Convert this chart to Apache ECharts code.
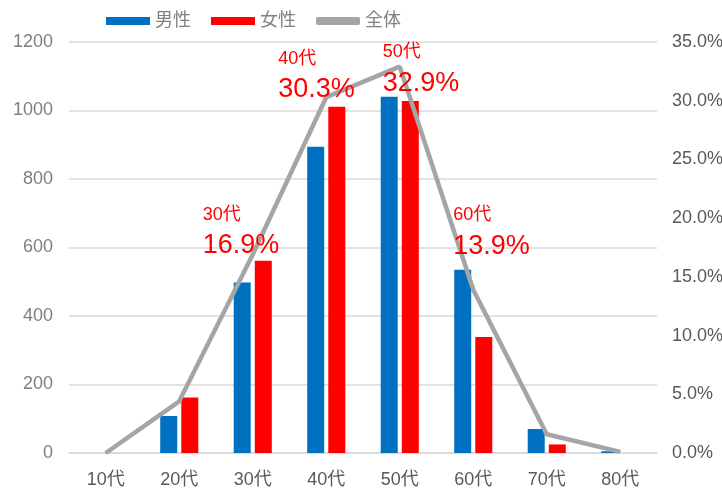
<!DOCTYPE html>
<html>
<head>
<meta charset="utf-8">
<script src="https://cdn.jsdelivr.net/npm/echarts@6/dist/echarts.min.js"></script>
<style>
html,body{margin:0;padding:0;background:#fff;}
#chart{width:722px;height:494px;}
</style>
</head>
<body>
<div id="chart"></div>
<script>
const categories = ['10代','20代','30代','40代','50代','60代','70代','80代'];
const maleValues = [0, 108, 498, 894, 1040, 535, 70, 5];
const femaleValues = [0, 162, 561, 1011, 1028, 339, 25, 0];
const totalPercent = [0, 4.4, 16.9, 30.3, 32.9, 13.9, 1.6, 0.1];
const seriesNames = ['男性','女性','全体'];
const leftTicks = {min: 0, max: 1200, interval: 200};
const rightTicks = {min: 0, max: 35, interval: 5};
// which points carry an age/percent annotation, and label offsets (style)
const annotated = {2: [-50, -24], 3: [-48, -23], 4: [-17, 1], 5: [-20, -59]};

const FONT = "'Liberation Sans', Arial, 'Noto Sans CJK JP', sans-serif";

const lineData = totalPercent.map((v, i) => {
  if (annotated[i]) {
    return {
      value: v,
      label: {
        show: true,
        position: 'inside',
        align: 'left',
        verticalAlign: 'middle',
        offset: annotated[i],
        formatter: (p) => '{a|' + categories[p.dataIndex] + '}\n{b|' + p.value.toFixed(1) + '%}',
        rich: {
          a: {fontSize: 18, lineHeight: 31, color: '#FF0000', fontFamily: FONT},
          b: {fontSize: 27, lineHeight: 31, color: '#FF0000', fontFamily: FONT}
        }
      }
    };
  }
  return v;
});

const chart = echarts.init(document.getElementById('chart'), null, {renderer: 'canvas'});
chart.setOption({
  animation: false,
  backgroundColor: '#ffffff',
  textStyle: {fontFamily: FONT},
  legend: {
    left: 101,
    top: 7,
    itemWidth: 44,
    itemHeight: 8,
    itemGap: 20,
    textStyle: {fontSize: 18, color: '#808080', fontFamily: FONT},
    data: [
      {name: seriesNames[0], icon: 'rect'},
      {name: seriesNames[1], icon: 'rect'},
      {name: seriesNames[2], icon: 'roundRect', itemStyle: {color: '#A5A5A5'}}
    ]
  },
  grid: {left: 69, right: 65, top: 42, bottom: 41, containLabel: false, outerBoundsMode: 'none'},
  xAxis: {
    type: 'category',
    data: categories,
    axisLine: {show: true, lineStyle: {color: '#D9D9D9', width: 1.5}},
    axisTick: {show: false},
    axisLabel: {fontSize: 18, color: '#595959', margin: 18, fontFamily: FONT}
  },
  yAxis: [
    {
      type: 'value',
      min: leftTicks.min, max: leftTicks.max, interval: leftTicks.interval,
      axisLine: {show: false},
      axisTick: {show: false},
      axisLabel: {fontSize: 18, color: '#7F7F7F', margin: 16, fontFamily: FONT,
        formatter: (v) => String(v)},
      splitLine: {lineStyle: {color: '#D9D9D9', width: 1.5}}
    },
    {
      type: 'value',
      min: rightTicks.min, max: rightTicks.max, interval: rightTicks.interval,
      axisLine: {show: false},
      axisTick: {show: false},
      splitLine: {show: false},
      axisLabel: {fontSize: 18, color: '#595959', margin: 15, fontFamily: FONT,
        formatter: (v) => v.toFixed(1) + '%'}
    }
  ],
  series: [
    {
      name: seriesNames[0], type: 'bar', data: maleValues,
      barWidth: 17, barGap: '24%',
      itemStyle: {color: '#0070C0'}
    },
    {
      name: seriesNames[1], type: 'bar', data: femaleValues,
      barWidth: 17, barGap: '24%',
      itemStyle: {color: '#FF0000'}
    },
    {
      name: seriesNames[2], type: 'line', yAxisIndex: 1, data: lineData,
      symbol: 'circle', symbolSize: 1, showSymbol: true,
      itemStyle: {color: '#A5A5A5'},
      lineStyle: {color: '#A5A5A5', width: 4.5},
      z: 5
    }
  ]
});
</script>
</body>
</html>
